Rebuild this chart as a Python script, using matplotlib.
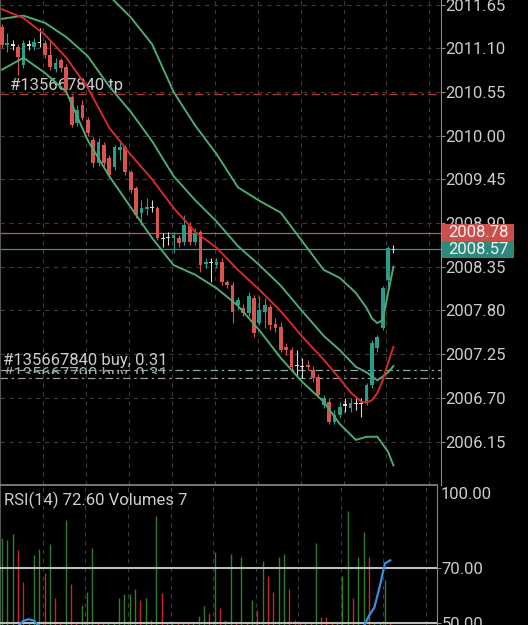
import numpy as np
import matplotlib
matplotlib.use("Agg")
import matplotlib.pyplot as plt
import matplotlib.transforms as mtransforms
from matplotlib.patches import Rectangle

plt.rcParams['font.family'] = ['Roboto', 'DejaVu Sans']

# ---------------- data ----------------
opens = [2011.37, 2011.14, 2011.14, 2011.12, 2010.89, 2011.14, 2011.12, 2011.17, 2011.17, 2011.01,
         2010.84, 2010.95, 2010.86, 2010.49, 2010.16, 2010.39, 2010.20, 2009.94, 2009.66, 2009.88,
         2009.72, 2009.60, 2009.82, 2009.86, 2009.54, 2009.34, 2009.03, 2009.08, 2009.10, 2009.09,
         2008.71, 2008.72, 2008.71, 2008.71, 2008.66, 2008.86, 2008.66, 2008.79, 2008.38, 2008.40,
         2008.37, 2008.41, 2008.16, 2008.12, 2007.87, 2007.83, 2007.77, 2007.96, 2007.64, 2007.78,
         2007.84, 2007.63, 2007.59, 2007.34, 2007.30, 2007.11, 2007.09, 2007.11, 2007.05, 2006.96,
         2006.61, 2006.65, 2006.40, 2006.48, 2006.61, 2006.57, 2006.63, 2006.63, 2006.63, 2006.86,
         2007.33, 2007.58, 2008.18, 2008.57]
closes = [2011.14, 2011.17, 2011.14, 2010.99, 2011.17, 2011.14, 2011.18, 2011.17, 2011.01, 2010.86,
          2010.91, 2010.85, 2010.57, 2010.13, 2010.32, 2010.22, 2010.03, 2009.66, 2009.92, 2009.66,
          2009.50, 2009.86, 2009.86, 2009.54, 2009.32, 2009.00, 2009.09, 2009.10, 2009.10, 2008.71,
          2008.71, 2008.72, 2008.75, 2008.65, 2008.87, 2008.66, 2008.77, 2008.37, 2008.41, 2008.40,
          2008.41, 2008.16, 2008.12, 2007.78, 2007.93, 2007.77, 2007.98, 2007.52, 2007.80, 2007.87,
          2007.62, 2007.58, 2007.30, 2007.30, 2007.09, 2007.11, 2007.09, 2007.09, 2006.95, 2006.74,
          2006.70, 2006.40, 2006.48, 2006.58, 2006.61, 2006.63, 2006.63, 2006.63, 2006.86, 2007.39,
          2007.47, 2008.08, 2008.59, 2008.57]
highs = [2011.40, 2011.29, 2011.20, 2011.15, 2011.20, 2011.20, 2011.23, 2011.35, 2011.20, 2011.20,
         2010.98, 2010.98, 2010.90, 2010.51, 2010.39, 2010.45, 2010.23, 2009.98, 2009.97, 2009.92,
         2009.76, 2009.88, 2009.94, 2009.88, 2009.57, 2009.37, 2009.19, 2009.21, 2009.19, 2009.11,
         2008.77, 2008.79, 2008.79, 2008.75, 2009.00, 2008.91, 2008.84, 2008.81, 2008.46, 2008.46,
         2008.46, 2008.46, 2008.18, 2008.16, 2007.97, 2007.88, 2008.03, 2007.99, 2007.98, 2007.96,
         2007.88, 2007.70, 2007.65, 2007.39, 2007.34, 2007.30, 2007.20, 2007.18, 2007.10, 2007.00,
         2006.74, 2006.70, 2006.55, 2006.65, 2006.70, 2006.70, 2006.70, 2006.70, 2006.89, 2007.43,
         2007.49, 2008.11, 2008.61, 2008.62]
lows = [2011.10, 2011.05, 2011.08, 2010.76, 2010.85, 2011.08, 2011.08, 2011.12, 2010.98, 2010.83,
        2010.80, 2010.80, 2010.52, 2010.11, 2010.12, 2010.20, 2010.00, 2009.60, 2009.62, 2009.62,
        2009.47, 2009.57, 2009.69, 2009.50, 2009.28, 2008.96, 2008.87, 2009.00, 2009.04, 2008.69,
        2008.60, 2008.62, 2008.52, 2008.60, 2008.62, 2008.62, 2008.62, 2008.28, 2008.33, 2008.16,
        2008.33, 2008.12, 2008.08, 2007.64, 2007.80, 2007.73, 2007.73, 2007.47, 2007.62, 2007.58,
        2007.55, 2007.53, 2007.28, 2007.24, 2007.05, 2006.97, 2006.95, 2007.05, 2006.90, 2006.70,
        2006.57, 2006.37, 2006.37, 2006.45, 2006.52, 2006.52, 2006.55, 2006.46, 2006.61, 2006.82,
        2007.28, 2007.55, 2008.09, 2008.52]

# red moving average, read at selected bars
ma_idx = [0, 4, 8, 12, 16, 20, 24, 28, 32, 36, 40, 44, 48, 52, 56, 60, 63, 65, 66, 67, 68, 69, 70, 71, 72, 73]
ma_val = [2011.59, 2011.48, 2011.27, 2010.98, 2010.60, 2010.10, 2009.76, 2009.45, 2009.09, 2008.79,
          2008.59, 2008.31, 2008.06, 2007.79, 2007.47, 2007.18, 2006.94, 2006.77, 2006.71, 2006.65,
          2006.64, 2006.67, 2006.76, 2006.92, 2007.14, 2007.34]

# Bollinger bands (green), read at selected bars
bb_up_idx = [0, 4, 8, 12, 16, 20, 24, 28, 32, 36, 40, 44, 48, 52, 56, 60, 63, 66, 68, 69, 70, 71, 72, 73]
bb_up = [2012.11, 2012.03, 2012.05, 2011.93, 2012.06, 2011.76, 2011.49, 2011.15, 2010.55, 2010.13,
         2009.77, 2009.35, 2009.18, 2009.03, 2008.67, 2008.31, 2008.21, 2008.02, 2007.83, 2007.70,
         2007.64, 2007.68, 2008.02, 2008.35]
bb_idx = [0, 4, 8, 12, 16, 20, 24, 28, 32, 36, 40, 44, 48, 52, 56, 60, 63, 66, 68, 70, 72, 73]
bb_mid = [2011.47, 2011.51, 2011.42, 2011.24, 2011.00, 2010.62, 2010.30, 2009.93, 2009.49, 2009.19,
          2008.92, 2008.61, 2008.37, 2008.11, 2007.79, 2007.48, 2007.30, 2007.09, 2007.02, 2006.92,
          2007.02, 2007.10]
bb_low = [2010.83, 2010.98, 2010.79, 2010.55, 2009.94, 2009.49, 2009.10, 2008.71, 2008.37, 2008.25,
          2008.08, 2007.86, 2007.55, 2007.20, 2006.90, 2006.65, 2006.37, 2006.17, 2006.21, 2006.21,
          2006.02, 2005.85]

# tick volumes and their colour flag (1 = green, 0 = red)
volumes = [313, 306, 328, 270, 155, 8, 252, 274, 187, 292,
           97, 8, 378, 148, 8, 72, 119, 277, 8, 8,
           8, 8, 97, 112, 112, 130, 90, 97, 18, 392,
           115, 8, 8, 8, 8, 8, 8, 32, 68, 43,
           263, 61, 18, 256, 8, 245, 8, 90, 54, 230,
           176, 119, 245, 256, 130, 18, 8, 8, 8, 295,
           29, 29, 8, 8, 176, 410, 97, 245, 335, 245,
           8, 8, 162, 7]
vol_up = [1, 1, 1, 0, 0, 1, 1, 1, 0, 1,
          0, 0, 1, 0, 0, 1, 1, 1, 0, 0,
          1, 1, 1, 1, 1, 1, 0, 1, 0, 1,
          0, 0, 1, 0, 1, 0, 1, 1, 1, 0,
          1, 0, 1, 1, 0, 1, 0, 1, 0, 1,
          0, 0, 1, 1, 0, 0, 0, 1, 0, 1,
          0, 0, 0, 1, 1, 1, 0, 1, 1, 0,
          1, 1, 1, 0]

# RSI(14): only the parts visible in the panel (None = below panel, not readable)
rsi_values = ([None, None, 46.0, 48.5, 50.6, 51.2, 50.7, 48.5, 46.0] + [None] * 57 +
              [44.0, 46.5, 48.5, 52.5, 55.4, 63.0, 71.5, 72.6])

price_ticks = [2011.65, 2011.10, 2010.55, 2010.00, 2009.45, 2008.90, 2008.35,
               2007.80, 2007.25, 2006.70, 2006.15]
tp_level = 2010.52
tp_text = "#135667840 tp"
buy_levels = [2007.05, 2006.95]
buy_texts = ["#135667840 buy, 0.31", "#135667790 buy, 0.31"]
ask_price = 2008.78
bid_price = 2008.57
rsi_label = "RSI(14) 72.60 Volumes 7"
rsi_levels = [70, 50]
rsi_tick_labels = ["70.00", "50.00"]
rsi_top_label = "100.00"

# ---------------- styling ----------------
BULL = '#2a9d8a'
BEAR = '#d9534f'
DOJI = '#d8d8d8'
BB_C = '#4daa73'
MA_C = '#d42a2a'
TXT = '#cccccc'
SPINE = '#8a8a8a'
GRID = dict(color='#3a3a3a', lw=0.8, ls=(0, (4, 4)))

W, H = 528, 625
fig = plt.figure(figsize=(W / 100, H / 100), dpi=100, facecolor='black')
ax = fig.add_axes([0, 140.5 / H, 440.5 / W, 484.5 / H], facecolor='black')
axv = fig.add_axes([0, 0, 437 / W, 140 / H], facecolor='black')
axr = fig.add_axes([0, 0, 437 / W, 140 / H], facecolor='none')

n = len(opens)
x = np.arange(n)
XMIN, XMAX = -0.373, 81.78
for a in (ax, axv, axr):
    a.set_xlim(XMIN, XMAX)
grid_x = np.arange(7.7, 80.0, 8.0)

# ---------------- main price panel ----------------
ax.set_ylim(2005.609, 2011.707)
ax.set_axisbelow(True)
ax.set_xticks(grid_x)
ax.set_yticks(price_ticks)
ax.set_yticklabels([f"{p:.2f}" for p in price_ticks])
ax.yaxis.tick_right()
ax.tick_params(axis='x', length=0, labelbottom=False)
ax.tick_params(axis='y', length=3, width=0.8, color=SPINE, labelcolor=TXT,
               labelsize=12, pad=0.5)
ax.grid(True, **GRID)
for s in ('top', 'bottom'):
    ax.spines[s].set_visible(False)
ax.spines['right'].set_color(SPINE)
ax.spines['left'].set_color('#555555')

trans = mtransforms.blended_transform_factory(ax.transAxes, ax.transData)

# order / price lines
ax.axhline(tp_level, color='#b03a3a', lw=1.0, ls=(0, (6, 3, 2, 3)), zorder=1)
ax.axhline(ask_price, color='#b0605a', lw=0.9, zorder=1)
ax.axhline(bid_price, color='#3f9486', lw=0.9, zorder=1)
ax.axhline(buy_levels[0], color='#86aba3', lw=0.9, ls=(0, (6, 3, 2, 3)), zorder=1)
ax.axhline(buy_levels[1], color='#9a9a9a', lw=0.9, ls=(0, (6, 3, 2, 3)), zorder=1)

ax.text(10 / 440.5, tp_level + 0.115, tp_text, transform=trans, color=TXT,
        fontsize=12, va='center', ha='left', zorder=1.5)
ax.text(3 / 440.5, buy_levels[0] + 0.125, buy_texts[0], transform=trans, color=TXT,
        fontsize=12, va='center', ha='left', zorder=1.5)
t2 = ax.text(3 / 440.5, buy_levels[1] + 0.04, buy_texts[1], transform=trans, color='#aaaaaa',
             fontsize=12, va='center', ha='left', zorder=1.4, clip_on=True)
t2.set_clip_box(mtransforms.TransformedBbox(
    mtransforms.Bbox([[0, buy_levels[0] - 0.045], [1, 2012.5]]), trans))

# candles
o = np.array(opens); c = np.array(closes)
hi = np.array(highs); lo = np.array(lows)
cols = np.where(c > o, BULL, np.where(c < o, BEAR, DOJI))
body_h = np.maximum(np.abs(c - o), 0.014)
body_b = np.where(c == o, o - 0.007, np.minimum(o, c))
ax.vlines(x, lo, hi, colors=cols, lw=0.8, zorder=3)
ax.bar(x, body_h, bottom=body_b, width=0.7, color=cols, linewidth=0, zorder=4)

# indicators
ax.plot(bb_up_idx, bb_up, color=BB_C, lw=1.4, zorder=5)
ax.plot(bb_idx, bb_mid, color=BB_C, lw=1.4, zorder=5)
ax.plot(bb_idx, bb_low, color=BB_C, lw=1.4, zorder=5)
ax.plot(ma_idx, ma_val, color=MA_C, lw=1.4, zorder=5)

# price tags
tag_h = 0.21
for price, fc in ((ask_price, '#c9504b'), (bid_price, '#2b8a7c')):
    ax.add_patch(Rectangle((442 / 440.5, price - tag_h / 2), 72 / 440.5, tag_h,
                           transform=trans, facecolor=fc, edgecolor='none',
                           clip_on=False, zorder=10))
    ax.text(478 / 440.5, price - 0.004, f"{price:.2f}", transform=trans, ha='center',
            va='center', color='#f2f2f2', fontsize=12, zorder=11, clip_on=False)

# ---------------- RSI / volumes panel ----------------
axv.set_ylim(0, 504)
axv.set_xticks(grid_x)
axv.set_yticks([])
axv.tick_params(axis='x', length=0, labelbottom=False)
axv.grid(True, axis='x', **GRID)
axv.set_axisbelow(True)
for s in axv.spines.values():
    s.set_visible(False)
vcols = ['#2e7d32' if u else '#c62828' for u in vol_up]
axv.vlines(x, 0, volumes, colors=vcols, lw=1.0, zorder=2)

axr.set_ylim(49.1, 100)
axr.set_xticks([])
axr.yaxis.tick_right()
axr.set_yticks(rsi_levels)
axr.set_yticklabels(rsi_tick_labels)
axr.tick_params(axis='y', length=3, width=0.8, color=SPINE, labelcolor=TXT,
                labelsize=12, pad=0.5)
axr.spines['bottom'].set_visible(False)
axr.spines['top'].set_color(SPINE)
axr.spines['top'].set_linewidth(1.2)
axr.spines['right'].set_color(SPINE)
axr.spines['left'].set_color('#555555')
for lvl in rsi_levels:
    axr.axhline(lvl, color='#bdbdbd', lw=1.5, zorder=3)
rsi = np.array([np.nan if v is None else v for v in rsi_values], dtype=float)
axr.plot(x, rsi, color='#3b8de0', lw=1.6, zorder=4)
axr.text(4 / 437, 0.893, rsi_label, transform=axr.transAxes, color=TXT,
         fontsize=12, va='center', ha='left')
axr.text(1 + 3.5 / 437, 0.929, rsi_top_label, transform=axr.transAxes, color=TXT,
         fontsize=12, va='center', ha='left', clip_on=False)

fig.savefig('out.png', dpi=100, facecolor='black')
